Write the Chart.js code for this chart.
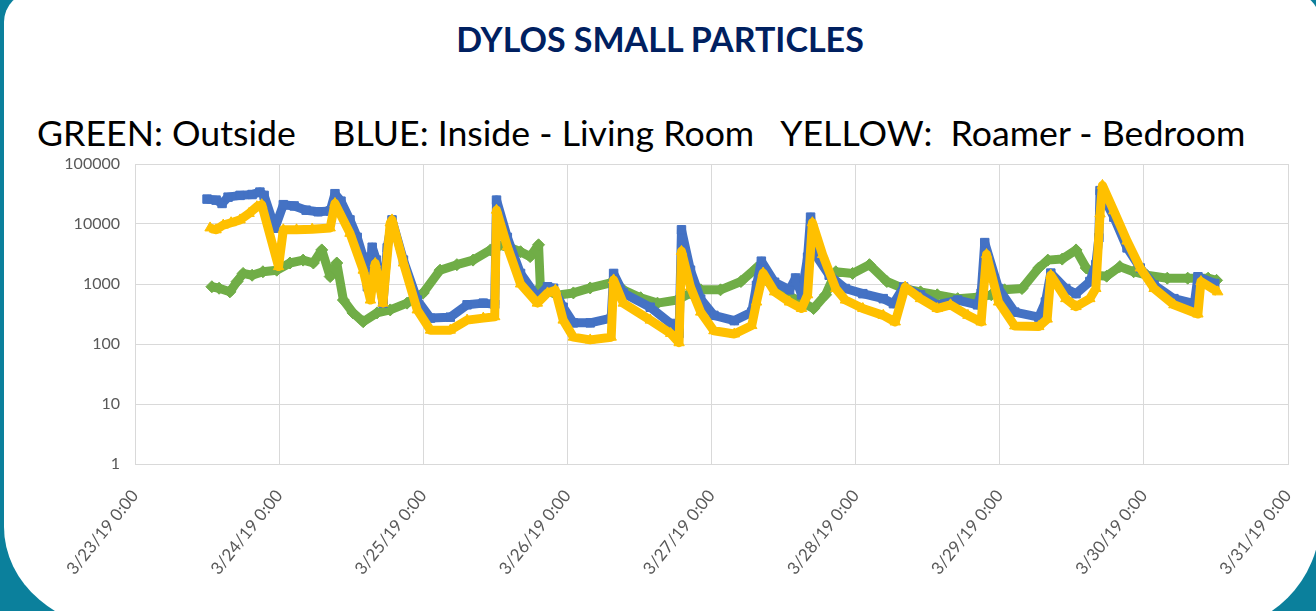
<!DOCTYPE html>
<html>
<head>
<meta charset="utf-8">
<title>Dylos small particles</title>
<script src="https://cdn.jsdelivr.net/npm/chart.js@4.4.1/dist/chart.umd.min.js"></script>
<style>
  html, body { margin: 0; padding: 0; }
  body {
    width: 1316px; height: 611px; overflow: hidden; position: relative;
    background: #0b809c; font-family: Lato, 'Open Sans', sans-serif;
  }
  .panel {
    position: absolute; left: 4px; top: -8px; width: 1316px; height: 638px;
    background: #fff; border-radius: 30px 30px 110px 110px / 30px 30px 110px 103px;
    border-bottom-left-radius: 121px 103px;
  }
  .title {
    position: absolute; left: 0; width: 1320px; top: 19px; text-align: center;
    font-weight: 700; font-size: 34px; color: #002060; line-height: 40px;
  }
  .legend-line {
    position: absolute; left: 37px; top: 112px; white-space: pre;
    font-size: 35.7px; color: #000; line-height: 42px;
  }
  .chart-box { position: absolute; left: 0; top: 150px; width: 1316px; height: 461px; }
</style>
</head>
<body>
<div class="panel"></div>
<div class="title">DYLOS SMALL PARTICLES</div>
<div class="legend-line">GREEN: Outside    BLUE: Inside - Living Room   YELLOW:  Roamer - Bedroom</div>
<div class="chart-box"><canvas id="chart"></canvas></div>
<script>
// x values are hours after 3/23/19 0:00
const timeTicks = ['3/23/19 0:00', '3/24/19 0:00', '3/25/19 0:00', '3/26/19 0:00', '3/27/19 0:00',
    '3/28/19 0:00', '3/29/19 0:00', '3/30/19 0:00', '3/31/19 0:00'];
const yTicks = [1, 10, 100, 1000, 10000, 100000];

// GREEN: Outside
const greenHours = [12.8, 14, 15.8, 17, 18, 19.5, 21.3, 23.6, 25.8, 28, 29.7, 31.1, 32.5, 33.6, 34.7, 36.3, 38,
    40.3, 42.5, 45.3, 48, 50.8, 53.6, 56.3, 59.2, 61.3, 64.2, 65.8, 67.2, 67.5, 70.3, 73, 75.8, 79.2, 81.3, 84.2,
    87, 90.3, 92.5, 94.2, 97.5, 100.9, 103.5, 105.4, 108, 111, 113, 115, 116.7, 119.5, 122.3, 125.2, 128, 130.8,
    133.6, 137, 140.3, 142.6, 144.8, 147.7, 150.5, 152, 154.4, 156.7, 158.4, 160, 161.8, 164, 166.3, 168.5,
    171.9, 175.3, 178.7, 180.1];
const greenValues = [900, 850, 740, 1100, 1500, 1400, 1600, 1700, 2240, 2500, 2240, 3700, 1330, 2240, 540, 330, 235,
    330, 370, 480, 710, 1700, 2100, 2500, 3700, 4500, 3450, 2860, 4500, 890, 650, 710, 860, 1040, 800, 590,
    480, 540, 710, 800, 800, 1100, 1850, 1100, 700, 500, 390, 660, 1600, 1500, 2100, 1100, 840, 740,
    660, 570, 600, 660, 800, 840, 1850, 2500, 2600, 3700, 1850, 1400, 1350, 1950, 1600, 1400,
    1250, 1250, 1250, 1150];

// BLUE: Inside - Living Room
const blueHours = [12, 13.5, 14.5, 15.5, 17.5, 19.5, 20.8, 21.5, 23.3, 24.7, 26.5, 28.5, 30.5, 32.5, 33.3, 34.3,
    35.8, 37, 38, 38.7, 39.5, 40.2, 41.3, 42, 42.8, 44.7, 47, 49.2, 52.5, 55.3, 58, 59.9, 60.2, 62, 64.2, 67,
    68.7, 69.7, 71.3, 73, 75.8, 79.3, 79.7, 81.3, 85.8, 89.2, 90.6, 91, 92.5, 94.2, 96.4, 99.8, 102.7, 103.5,
    104.3, 106.5, 109, 110, 111, 112, 112.5, 113.3, 115.6, 118.3, 121.2, 124.6, 126.3, 128, 130.8, 133.6, 137,
    140.3, 140.9, 141.5, 143.8, 146.5, 150.5, 151.6, 152.5, 155, 156.7, 159, 160, 160.5, 160.7, 163, 165.2,
    167.4, 169.7, 173, 176.4, 177, 179.8];
const blueValues = [26000, 25000, 22000, 28000, 30000, 31000, 34000, 30000, 8500, 21000, 20000, 17000, 16000, 16500,
    32000, 24000, 11700, 6000, 2800, 900, 4100, 2500, 480, 4000, 11700, 2500, 540, 270, 280, 450, 480, 460,
    25000, 6000, 1500, 600, 900, 850, 410, 225, 225, 270, 1500, 710, 410, 220, 150, 8000, 1700, 560, 300, 245,
    340, 950, 2400, 1070, 800, 1260, 660, 2800, 13000, 3100, 1400, 840, 690, 570, 470, 890, 660, 450, 540,
    450, 700, 4900, 840, 340, 280, 500, 1520, 840, 690, 1100, 2100, 5900, 36000, 13000, 4000,
    1850, 960, 570, 470, 1320, 1020];

// YELLOW: Roamer - Bedroom
const yellowHours = [12.5, 13.5, 14.7, 16, 17.5, 19, 20.3, 21.1, 23.9, 24.7, 26.9, 29.5, 32.5, 33.3, 35.8, 38,
    39.2, 40, 41.3, 42.5, 42.8, 44.7, 47, 49.2, 52.5, 55.3, 58, 59.9, 60.2, 62, 64.2, 67, 68.7, 70, 71.3, 73,
    75.8, 79.3, 79.7, 81.3, 85.8, 89.2, 90.6, 91, 92.5, 94.2, 96.4, 99.8, 102.7, 103.5, 104.6, 106.5, 109, 111,
    112, 112.8, 114.5, 116.7, 118.3, 121.2, 124.6, 126.6, 128.25, 130.8, 133.6, 135.8, 138.7, 140.9, 141.8,
    143.8, 146.5, 150.5, 151.9, 152.5, 155, 156.7, 159, 160, 160.7, 161.1, 163, 165.2, 167.4, 169.7, 173, 177,
    177.5, 180.3];
const yellowValues = [8600, 8000, 9600, 10500, 11700, 15000, 19400, 21000, 1950, 8000, 8000, 8200, 8600, 22000, 7000,
    1700, 540, 2200, 480, 10400, 11700, 2240, 370, 170, 170, 250, 270, 285, 17000, 4200, 1000, 480, 710, 790,
    250, 130, 117, 130, 1170, 480, 250, 150, 105, 3500, 890, 340, 166, 147, 203, 500, 1520, 740, 500, 390,
    660, 10500, 3100, 840, 540, 390, 300, 233, 890, 570, 390, 450, 300, 233, 3100,
    500, 200, 195, 260, 1400, 570, 420, 570, 840, 14700, 44000, 16600, 5200, 1850, 840, 450, 316,
    1100, 740];

const toPoints = (hours, values) => hours.map((h, i) => ({ x: h, y: values[i] }));

const tickColor = '#595959';
const gridColor = '#d9d9d9';

function series(label, hours, values, color, shape, order) {
    return {
        label: label,
        data: toPoints(hours, values),
        borderColor: color,
        backgroundColor: color,
        borderWidth: 9,
        borderJoinStyle: 'round',
        pointStyle: shape,
        pointRadius: 6,
        pointBorderWidth: 1,
        pointBorderColor: color,
        tension: 0,
        order: order
    };
}

new Chart(document.getElementById('chart'), {
    type: 'line',
    data: {
        datasets: [
            series('Roamer - Bedroom', yellowHours, yellowValues, '#FFC000', 'triangle', 0),
            series('Inside - Living Room', blueHours, blueValues, '#4472C4', 'rect', 1),
            series('Outside', greenHours, greenValues, '#70AD47', 'rectRot', 2)
        ]
    },
    options: {
        responsive: true,
        maintainAspectRatio: false,
        animation: false,
        layout: { padding: { top: 14, right: 28, left: 0, bottom: 0 } },
        plugins: {
            legend: { display: false },
            tooltip: { enabled: false }
        },
        scales: {
            x: {
                type: 'linear',
                min: 0,
                max: 192,
                afterBuildTicks: (scale) => { scale.ticks = timeTicks.map((_, i) => ({ value: i * 24 })); },
                afterFit: (scale) => {
                    scale.height = 147;
                    scale.paddingLeft = 0;
                    scale.paddingRight = 0;
                },
                ticks: {
                    autoSkip: false,
                    maxRotation: 51,
                    minRotation: 51,
                    padding: 22,
                    color: tickColor,
                    font: { family: 'Lato', size: 17 },
                    callback: (v) => timeTicks[Math.round(v / 24)]
                },
                grid: { color: gridColor, drawTicks: false },
                border: { color: gridColor }
            },
            y: {
                type: 'logarithmic',
                min: 1,
                max: 100000,
                afterBuildTicks: (scale) => { scale.ticks = yTicks.map(v => ({ value: v })); },
                afterFit: (scale) => {
                    scale.width = 135;
                    scale.paddingTop = 0;
                    scale.paddingBottom = 0;
                },
                ticks: {
                    padding: 15,
                    color: tickColor,
                    font: { family: 'Lato', size: 16 },
                    callback: (v) => String(v)
                },
                grid: { color: gridColor, drawTicks: false },
                border: { color: gridColor }
            }
        }
    }
});
</script>
</body>
</html>
